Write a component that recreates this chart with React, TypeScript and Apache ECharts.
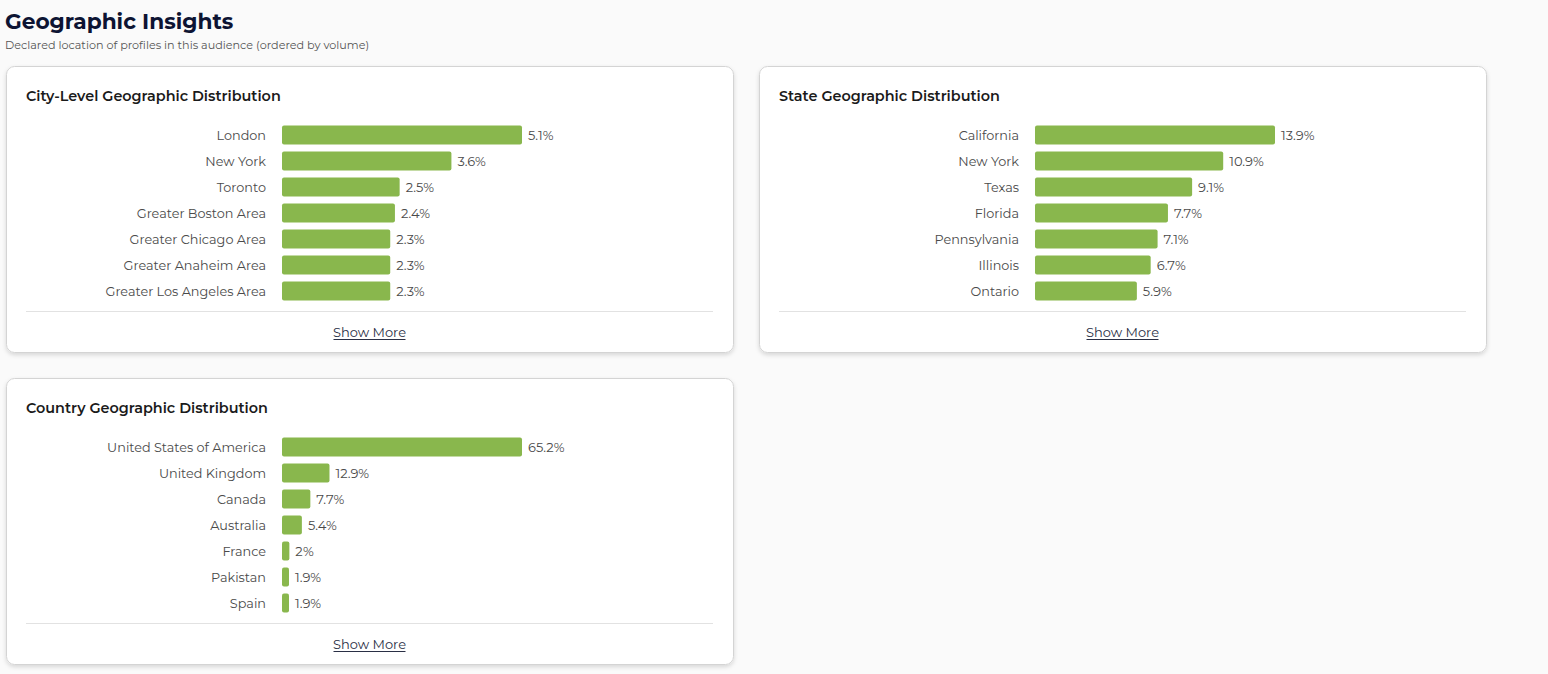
import React, { useEffect, useRef } from "react";
import * as echarts from "echarts";

const pageTitle = "Geographic Insights";
const pageSubtitle = "Declared location of profiles in this audience (ordered by volume)";

const cityTitle = "City-Level Geographic Distribution";
const cityNames = ["London", "New York", "Toronto", "Greater Boston Area", "Greater Chicago Area", "Greater Anaheim Area", "Greater Los Angeles Area"];
const cityValues = [5.1, 3.6, 2.5, 2.4, 2.3, 2.3, 2.3];

const stateTitle = "State Geographic Distribution";
const stateNames = ["California", "New York", "Texas", "Florida", "Pennsylvania", "Illinois", "Ontario"];
const stateValues = [13.9, 10.9, 9.1, 7.7, 7.1, 6.7, 5.9];

const countryTitle = "Country Geographic Distribution";
const countryNames = ["United States of America", "United Kingdom", "Canada", "Australia", "France", "Pakistan", "Spain"];
const countryValues = [65.2, 12.9, 7.7, 5.4, 2, 1.9, 1.9];

const showMoreText = "Show More";

const FONT = "Montserrat, 'Open Sans', 'Noto Sans', sans-serif";
const GREEN = "#89b74d";

export default function App() {
  const ref = useRef<HTMLDivElement>(null);

  useEffect(() => {
    document.body.style.margin = "0";
    document.body.style.background = "#fafafa";
    const chart = echarts.init(ref.current!, null, { renderer: "svg" });

    const panels = [
      { title: cityTitle, names: cityNames, values: cityValues, cx: 6, cy: 66 },
      { title: stateTitle, names: stateNames, values: stateValues, cx: 759, cy: 66 },
      { title: countryTitle, names: countryNames, values: countryValues, cx: 6, cy: 378 },
    ];
    const cardW = 727;
    const cardH = 286;

    const grids: any[] = [];
    const xAxes: any[] = [];
    const yAxes: any[] = [];
    const series: any[] = [];
    const graphics: any[] = [
      {
        type: "text",
        left: 5,
        top: 10,
        style: { text: pageTitle, font: `700 21.7px ${FONT}`, fill: "#0d1433" },
      },
      {
        type: "text",
        left: 5,
        top: 39,
        style: { text: pageSubtitle, font: `400 11.2px ${FONT}`, fill: "#555" },
      },
    ];

    panels.forEach((p, i) => {
      graphics.push({
        type: "rect",
        z: -10,
        shape: { x: p.cx + 0.5, y: p.cy + 0.5, width: cardW, height: cardH, r: 8 },
        style: {
          fill: "#fff",
          stroke: "#d4d4d4",
          lineWidth: 1,
          shadowBlur: 4,
          shadowOffsetY: 2,
          shadowColor: "rgba(0,0,0,0.14)",
        },
      });
      graphics.push({
        type: "text",
        z: 5,
        x: p.cx + 20,
        y: p.cy + 30,
        style: { text: p.title, font: `600 14.4px ${FONT}`, fill: "#1a1a1a", textVerticalAlign: "middle" },
      });
      graphics.push({
        type: "line",
        z: 5,
        shape: { x1: p.cx + 20, y1: p.cy + 245.5, x2: p.cx + 707, y2: p.cy + 245.5 },
        style: { stroke: "#e2e2e2", lineWidth: 1 },
      });
      const smx = p.cx + cardW / 2;
      graphics.push({
        type: "text",
        z: 5,
        x: smx,
        y: p.cy + 266,
        style: { text: showMoreText, font: `400 13px ${FONT}`, fill: "#2a2f45", textAlign: "center", textVerticalAlign: "middle" },
      });
      graphics.push({
        type: "line",
        z: 5,
        shape: { x1: smx - 36, y1: p.cy + 273.5, x2: smx + 36, y2: p.cy + 273.5 },
        style: { stroke: "#2a2f45", lineWidth: 1 },
      });

      const barLeft = p.cx === 6 ? 282 : 1035;
      grids.push({ left: barLeft, top: p.cy + 56, width: 240, height: 182 });
      xAxes.push({
        gridIndex: i,
        type: "value",
        min: 0,
        max: Math.max(...p.values),
        show: false,
      });
      yAxes.push({
        gridIndex: i,
        type: "category",
        data: p.names,
        inverse: true,
        axisLine: { show: false },
        axisTick: { show: false },
        splitLine: { show: false },
        axisLabel: { margin: 16, fontSize: 12.8, fontFamily: FONT, color: "#4a4a4a" },
      });
      series.push({
        type: "bar",
        xAxisIndex: i,
        yAxisIndex: i,
        data: p.values,
        barWidth: 19,
        itemStyle: { color: GREEN, borderRadius: 2 },
        label: {
          show: true,
          position: "right",
          distance: 6,
          formatter: "{c}%",
          fontSize: 13,
          fontFamily: FONT,
          color: "#4a4a4a",
        },
      });
    });

    chart.setOption({
      animation: false,
      backgroundColor: "#fafafa",
      grid: grids,
      xAxis: xAxes,
      yAxis: yAxes,
      series,
      graphic: { elements: graphics },
    });

    return () => chart.dispose();
  }, []);

  return <div ref={ref} style={{ width: 1548, height: 674 }} />;
}
